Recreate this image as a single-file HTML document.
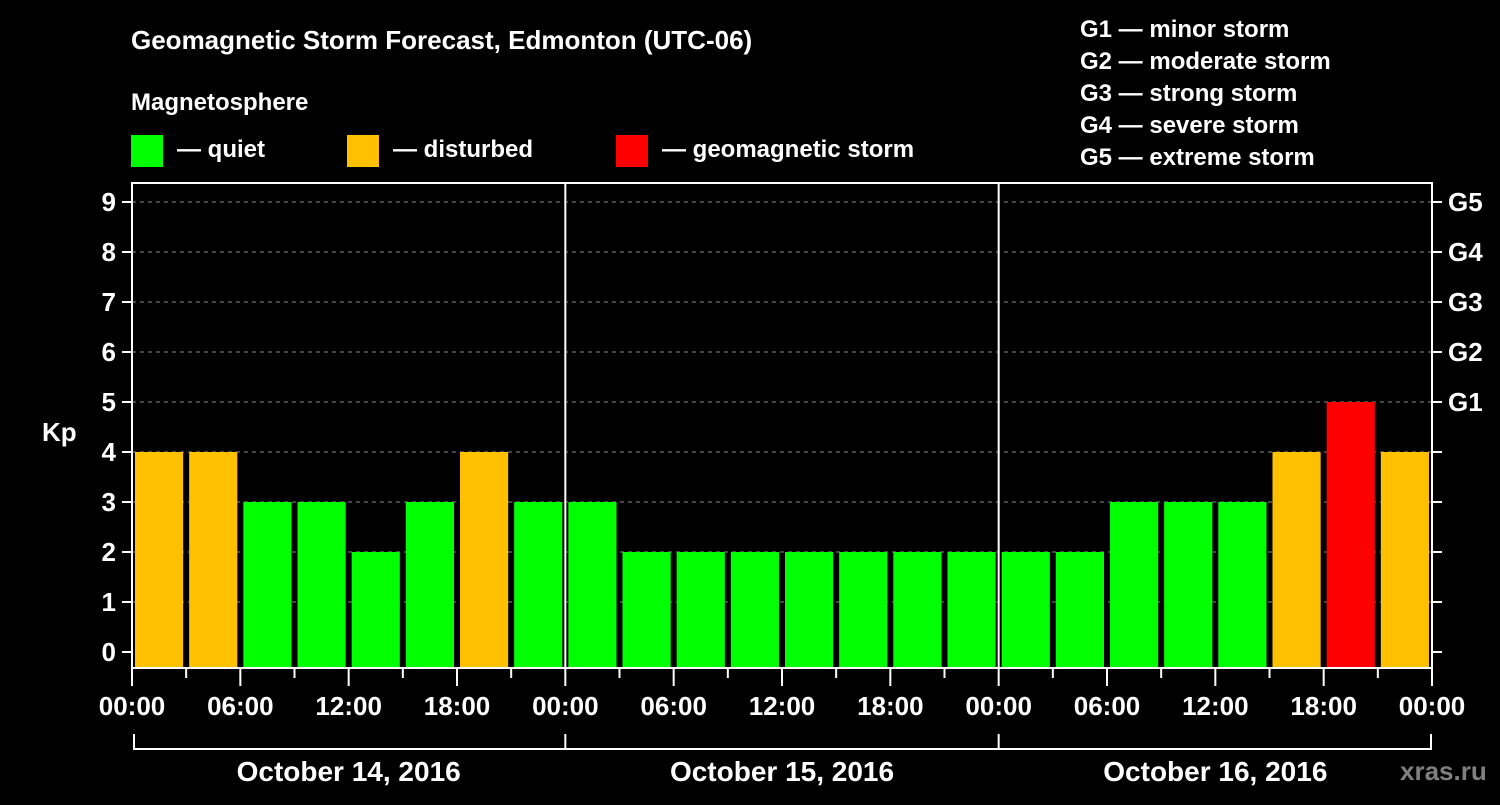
<!DOCTYPE html>
<html><head><meta charset="utf-8"><style>
body{margin:0;background:#000;width:1500px;height:800px;overflow:hidden;font-family:"Liberation Sans",sans-serif;font-weight:bold;color:#fff}
</style></head><body>
<svg id="c" width="1500" height="800" xmlns="http://www.w3.org/2000/svg" font-family="Liberation Sans, sans-serif" font-weight="bold" fill="#fff">
<text x="131" y="49" font-size="26">Geomagnetic Storm Forecast, Edmonton (UTC-06)</text>
<text x="131" y="110" font-size="24">Magnetosphere</text>
<g><rect x="131" y="135" width="32" height="32" fill="#00ff00"/><text x="177" y="157" font-size="24">— quiet</text></g>
<g><rect x="347" y="135" width="32" height="32" fill="#ffc000"/><text x="393" y="157" font-size="24">— disturbed</text></g>
<g><rect x="616" y="135" width="32" height="32" fill="#ff0000"/><text x="662" y="157" font-size="24">— geomagnetic storm</text></g>
<g font-size="24">
<text x="1080" y="37">G1 — minor storm</text><text x="1080" y="69">G2 — moderate storm</text><text x="1080" y="101">G3 — strong storm</text><text x="1080" y="133">G4 — severe storm</text><text x="1080" y="165">G5 — extreme storm</text></g>
<text x="42" y="441" font-size="26">Kp</text>
<text x="1400" y="780" font-size="26" fill="#808080">xras.ru</text>
<g id="plot"></g>
</svg>
<script>
const kpValues=[4,4,3,3,2,3,4,3, 3,2,2,2,2,2,2,2, 2,2,3,3,3,4,5,4];
const yTicks=[0,1,2,3,4,5,6,7,8,9];
const gLabels=["G1","G2","G3","G4","G5"];
const xTickLabels=["00:00","06:00","12:00","18:00","00:00","06:00","12:00","18:00","00:00","06:00","12:00","18:00","00:00"];
const dayLabels=["October 14, 2016","October 15, 2016","October 16, 2016"];
const X0=132,X1=1432,YT=183,YB=668;
const n=kpValues.length,bw=(X1-X0)/n;
const y=v=>652-v*50;
const x=i=>X0+i*bw;
const g=document.getElementById('plot');
const NS='http://www.w3.org/2000/svg';
function mk(t,a,p){const e=document.createElementNS(NS,t);for(const k in a)e.setAttribute(k,a[k]);(p||g).appendChild(e);return e;}
yTicks.forEach(v=>{
 if(v>0){const l=mk('line',{x1:X0,x2:X1,y1:y(v),y2:y(v),stroke:'#888','stroke-dasharray':'4,4','stroke-width':1});
 
 }
 mk('line',{x1:122,x2:X0,y1:y(v),y2:y(v),stroke:'#fff','stroke-width':2});
 mk('line',{x1:X1,x2:1442,y1:y(v),y2:y(v),stroke:'#fff','stroke-width':2});
 const t=mk('text',{x:116,y:y(v)+9,'font-size':26,'text-anchor':'end'});t.textContent=v;
 
 
});
gLabels.forEach((s,i)=>{const t=mk('text',{x:1448,y:y(5+i)+9,'font-size':26});t.textContent=s;
 
 });
kpValues.forEach((v,i)=>{
 const c=v>=5?'#ff0000':v>=4?'#ffc000':'#00ff00';
 const r=mk('rect',{x:x(i)+3,y:y(v),width:bw-6,height:YB-y(v),fill:c});
 
 
});
mk('rect',{x:X0,y:YT,width:X1-X0,height:YB-YT,fill:'none',stroke:'#fff','stroke-width':2});
[1,2].forEach(d=>mk('line',{x1:x(d*8),x2:x(d*8),y1:YT,y2:YB,stroke:'#fff','stroke-width':2}));
for(let i=0;i<=n;i++){mk('line',{x1:x(i),x2:x(i),y1:YB,y2:i%2==0?686:678,stroke:'#fff','stroke-width':2});}
xTickLabels.forEach((s,i)=>{const t=mk('text',{x:x(i*2),y:715,'font-size':26,'text-anchor':'middle'});t.textContent=s;
 
 });
mk('line',{x1:X0+2,x2:X1-1,y1:749,y2:749,stroke:'#fff','stroke-width':2});
[0,1,2,3].forEach(d=>mk('line',{x1:Math.min(Math.max(x(d*8),X0+2),X1-1),x2:Math.min(Math.max(x(d*8),X0+2),X1-1),y1:734,y2:750,stroke:'#fff','stroke-width':2}));
dayLabels.forEach((s,d)=>{const t=mk('text',{x:x(d*8+4),y:781,'font-size':28,'text-anchor':'middle'});t.textContent=s;
 
 });
</script>
</body></html>
